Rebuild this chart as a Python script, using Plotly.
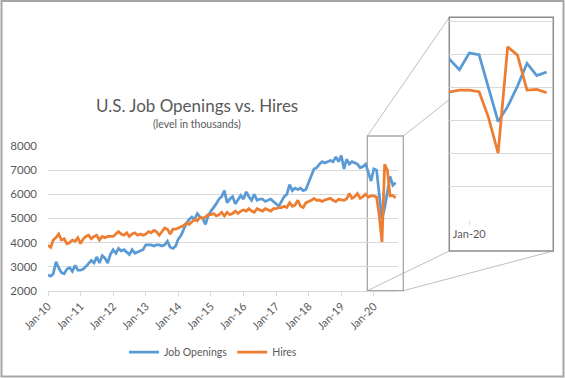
import pandas as pd
import plotly.graph_objects as go

# Monthly dates Jan-2010 .. Sep-2020
months = pd.date_range("2010-01-01", "2020-09-01", freq="MS").strftime("%Y-%m-%d").tolist()

# Job openings (thousands), one row per year
job_openings = [
    2650, 2600, 2700, 3200, 2950, 2750, 2700, 2900, 2950, 2800, 3050, 2850,   # 2010
    2850, 2900, 3000, 3150, 3250, 3150, 3400, 3150, 3450, 3350, 3150, 3500,   # 2011
    3700, 3550, 3750, 3650, 3700, 3600, 3500, 3700, 3550, 3600, 3650, 3700,   # 2012
    3900, 3900, 3900, 3850, 3900, 3900, 3850, 3900, 4050, 3800, 3750, 3850,   # 2013
    4150, 4300, 4550, 4800, 4950, 5050, 4950, 5200, 5050, 5000, 4750, 5100,   # 2014
    5300, 5450, 5600, 5800, 5900, 6150, 5650, 5800, 5900, 5600, 5800, 5950,   # 2015
    5800, 6100, 5900, 5750, 6000, 5750, 5800, 5800, 5700, 5750, 5800, 5700,   # 2016
    5600, 5500, 5700, 5900, 6000, 6400, 6150, 6250, 6200, 6250, 6150, 6200,   # 2017
    6500, 6800, 7050, 7100, 7250, 7350, 7300, 7350, 7400, 7350, 7550, 7350,   # 2018
    7600, 7050, 7450, 7250, 7350, 7300, 7250, 7100, 7150, 7250, 6850, 6550,   # 2019
    7050, 7000, 6000, 4980, 5430, 6050, 6740, 6370, 6480,                     # 2020
]

# Hires (thousands), one row per year
hires = [
    3880, 3800, 4100, 4200, 4350, 4100, 4150, 3950, 4000, 4100, 4050, 4200,   # 2010
    3950, 4150, 4250, 4300, 4150, 4250, 4300, 4100, 4250, 4200, 4250, 4250,   # 2011
    4250, 4350, 4450, 4350, 4300, 4400, 4250, 4350, 4400, 4300, 4350, 4300,   # 2012
    4350, 4450, 4400, 4500, 4450, 4300, 4450, 4600, 4550, 4350, 4550, 4550,   # 2013
    4600, 4650, 4700, 4800, 4750, 4850, 4950, 4900, 5050, 5000, 5050, 5150,   # 2014
    5150, 5200, 5100, 5150, 5250, 5100, 5250, 5150, 5200, 5300, 5200, 5300,   # 2015
    5350, 5300, 5400, 5300, 5250, 5400, 5350, 5300, 5400, 5350, 5300, 5400,   # 2016
    5400, 5450, 5450, 5500, 5450, 5650, 5500, 5550, 5750, 5500, 5450, 5650,   # 2017
    5700, 5750, 5830, 5750, 5760, 5700, 5760, 5790, 5830, 5750, 5690, 5790,   # 2018
    5760, 5750, 5800, 6030, 5830, 5900, 6030, 5830, 5900, 6000, 5880, 5930,   # 2019
    5930, 5880, 5120, 4020, 7240, 6990, 5930, 5950, 5850,                     # 2020
]

y_ticks = [2000, 3000, 4000, 5000, 6000, 7000, 8000]
title_text = "U.S. Job Openings vs. Hires"
subtitle_text = "(level in thousands)"
inset_tick = ["2020-01-01"]
inset_tick_label = ["Jan-20"]

W, H = 565, 378
BLUE = "#5B9BD5"
ORANGE = "#ED7D31"
TXT = "#595959"
GRID = "#d9d9d9"
FONT = "Lato"


def px(x):
    return x / W


def py(y):
    return 1 - y / H


fig = go.Figure()

# main chart
fig.add_trace(go.Scatter(x=months, y=job_openings, mode="lines", name="Job Openings",
                         line=dict(color=BLUE, width=2.75), xaxis="x", yaxis="y"))
fig.add_trace(go.Scatter(x=months, y=hires, mode="lines", name="Hires",
                         line=dict(color=ORANGE, width=2.75), xaxis="x", yaxis="y"))
# inset (zoomed copy)
fig.add_trace(go.Scatter(x=months, y=job_openings, mode="lines", showlegend=False,
                         line=dict(color=BLUE, width=2.75), xaxis="x2", yaxis="y2"))
fig.add_trace(go.Scatter(x=months, y=hires, mode="lines", showlegend=False,
                         line=dict(color=ORANGE, width=2.75), xaxis="x2", yaxis="y2"))

# geometry (pixels)
main_l, main_r, main_t, main_b = 48, 398.3, 146, 290.7
box_l, box_r, box_t, box_b = 367.3, 403.3, 136, 290.7
in_l, in_r, in_t, in_b = 449.3, 553.3, 17.3, 251
in_plot_b = 220

shapes = []
line_c = "#bfbfbf"
# connector lines (drawn first, under the inset fill)
for (x0, y0, x1, y1) in [(box_l, box_t, in_l, in_t), (box_r, box_t, in_r, in_t),
                         (box_l, box_b, in_l, in_b), (box_r, box_b, in_r, in_b)]:
    shapes.append(dict(type="line", xref="paper", yref="paper", layer="below",
                       x0=px(x0), y0=py(y0), x1=px(x1), y1=py(y1),
                       line=dict(color=line_c, width=1)))
# main zoom box
shapes.append(dict(type="rect", xref="paper", yref="paper", layer="below",
                   x0=px(box_l), y0=py(box_b), x1=px(box_r), y1=py(box_t),
                   line=dict(color="#a6a6a6", width=1.3), fillcolor="rgba(0,0,0,0)"))
# inset box with white fill
shapes.append(dict(type="rect", xref="paper", yref="paper", layer="below",
                   x0=px(in_l), y0=py(in_b), x1=px(in_r), y1=py(in_t),
                   line=dict(color="#8c8c8c", width=1.5), fillcolor="white"))
# outer frame
shapes.append(dict(type="rect", xref="paper", yref="paper", layer="above",
                   x0=px(1.5), y0=py(376.5), x1=px(563.5), y1=py(1),
                   line=dict(color="#a6a6a6", width=2), fillcolor="rgba(0,0,0,0)"))

fig.update_layout(
    template="none",
    width=W, height=H,
    autosize=False,
    margin=dict(l=0, r=0, t=0, b=0, pad=0, autoexpand=False),
    paper_bgcolor="white", plot_bgcolor="rgba(0,0,0,0)",
    font=dict(family=FONT, color=TXT, size=12),
    shapes=shapes,
    hovermode=False,
    xaxis=dict(domain=[px(main_l), px(main_r)], type="date", automargin=False,
               range=["2010-01-01", "2020-10-01"],
               tick0="2010-01-01", dtick="M12", tickformat="%b-%y",
               tickangle=-45, ticks="outside", ticklen=4, tickcolor=GRID,
               showgrid=False, showline=True, linecolor=GRID, linewidth=1,
               tickfont=dict(size=11, color=TXT), anchor="y", zeroline=False),
    yaxis=dict(domain=[py(main_b), py(main_t)], range=[2000, 8000], automargin=False,
               tickvals=y_ticks, showgrid=True, gridcolor=GRID, gridwidth=1,
               zeroline=False, showline=False, ticks="", ticklabelstandoff=10,
               tickfont=dict(size=11.5, color=TXT), anchor="x"),
    xaxis2=dict(domain=[px(in_l), px(in_r)], type="date", automargin=False,
                range=["2019-10-30", "2020-09-22"],
                tickvals=inset_tick, ticktext=inset_tick_label,
                ticks="outside", ticklen=4, tickcolor=GRID,
                showgrid=False, showline=False, zeroline=False,
                tickfont=dict(size=11, color=TXT), anchor="y2"),
    yaxis2=dict(domain=[py(in_plot_b), py(in_t)], range=[2000, 8133], automargin=False,
                tickvals=y_ticks, showgrid=True, gridcolor=GRID, gridwidth=1,
                showticklabels=False, zeroline=False, showline=False, anchor="x2"),
    legend=dict(orientation="h", x=px(213), y=py(352), xanchor="center", yanchor="middle",
                font=dict(size=10.5, color=TXT), itemwidth=30, bgcolor="rgba(0,0,0,0)"),
    annotations=[
        dict(text=title_text, xref="paper", yref="paper", x=px(197), y=py(105),
             xanchor="center", yanchor="middle", showarrow=False,
             font=dict(size=17, color=TXT, family=FONT)),
        dict(text=subtitle_text, xref="paper", yref="paper", x=px(197), y=py(124),
             xanchor="center", yanchor="middle", showarrow=False,
             font=dict(size=10.5, color=TXT, family=FONT)),
    ],
    showlegend=True,
)

fig.write_html("out.html",
               config={"displayModeBar": False, "staticPlot": True},
               post_script="document.body.style.margin='0px';document.body.style.padding='0px';")
